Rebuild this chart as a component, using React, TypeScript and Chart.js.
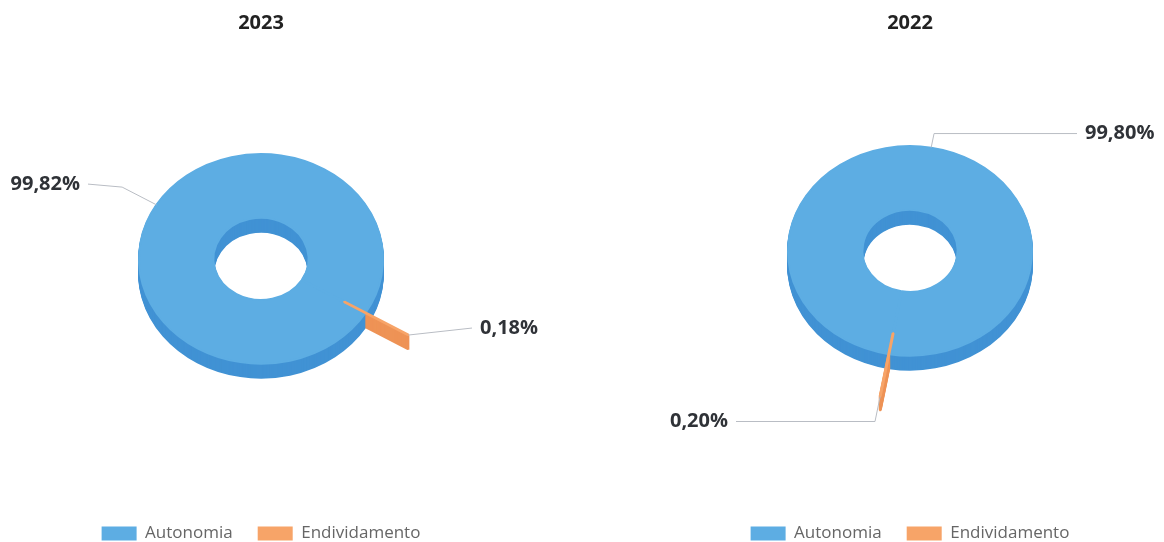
import React, { useEffect, useRef } from 'react';
import { Chart, registerables } from 'chart.js';

Chart.register(...registerables);

// ---- data ----
const categories = ['Autonomia', 'Endividamento'];
const years = ['2023', '2022'];
const values2023 = [99.82, 0.18];
const values2022 = [99.8, 0.2];
const labelTexts2023 = ['99,82%', '0,18%'];
const labelTexts2022 = ['99,80%', '0,20%'];

// ---- styles ----
const TOP_COLORS = ['#5DADE3', '#F7A468'];
const SIDE_COLORS = ['#4192D4', '#EE9356'];
const BORDER_WIDTHS = [2, 3];
const FONT = '"Open Sans", "Noto Sans", sans-serif';
const SCALE_Y = 0.86;
const DEPTH = 14;

const depthPlugin = {
  id: 'depth3d',
  beforeDatasetsDraw(chart: any, _args: any, opts: any) {
    const arcs = chart.getDatasetMeta(0).data;
    const ctx = chart.ctx;
    ctx.save();
    if (!arcs.length) return;
    const cx = arcs[0].x;
    const cy = arcs[0].y;
    for (let d = opts.depth; d >= 1; d--) {
      ctx.save();
      ctx.translate(0, d);
      ctx.translate(cx, cy);
      ctx.scale(1, opts.scaleY);
      ctx.translate(-cx, -cy);
      arcs.forEach((arc: any, i: number) => {
        const p = Object.create(arc);
        const col = opts.sideColors[i];
        p.options = Object.assign({}, arc.options, { backgroundColor: col, borderColor: col });
        arc.draw.call(p, ctx);
      });
      ctx.restore();
    }
    ctx.translate(cx, cy);
    ctx.scale(1, opts.scaleY);
    ctx.translate(-cx, -cy);
  },
  afterDatasetsDraw(chart: any) {
    chart.ctx.restore();
  },
};

const labelPlugin = {
  id: 'sliceLabels',
  afterDraw(chart: any, _args: any, o: any) {
    const arcs = chart.getDatasetMeta(0).data;
    if (!arcs.length) return;
    const ctx = chart.ctx;
    const cx = arcs[0].x;
    const cy = arcs[0].y;
    arcs.forEach((arc: any, i: number) => {
      const mid = (arc.startAngle + arc.endAngle) / 2;
      const r = arc.outerRadius + (arc.options.offset || 0) / 2;
      const c = Math.cos(mid);
      const s = Math.sin(mid);
      const px = cx + c * r;
      const py = cy + s * r * o.scaleY;
      const L = o.leader[i];
      const ex = px + c * L;
      const ey = py + s * L * o.scaleY;
      const ty = ey + o.dy[i];
      const right = c >= 0;
      const lx = right ? cx + o.rightGap : cx - o.leftGap;
      ctx.save();
      ctx.strokeStyle = '#b9bdc4';
      ctx.lineWidth = 1;
      ctx.beginPath();
      ctx.moveTo(px, py);
      ctx.lineTo(ex, ey);
      ctx.lineTo(right ? lx - 8 : lx + 8, ty);
      ctx.stroke();
      ctx.font = `bold 20px ${FONT}`;
      ctx.fillStyle = '#2f3237';
      ctx.textAlign = right ? 'left' : 'right';
      ctx.textBaseline = 'middle';
      ctx.fillText(o.texts[i], lx, ty);
      ctx.restore();
    });
  },
};

function rotationFor(values: number[], endivAngle: number) {
  // place the middle of the second slice at endivAngle (degrees, clockwise from 3 o'clock)
  const total = values.reduce((a, b) => a + b, 0);
  const before = (values[0] / total) * 360;
  const half = (values[1] / total) * 180;
  return endivAngle + 90 - before - half;
}

function makeConfig(year: string, values: number[], texts: string[], p: any) {
  return {
    type: 'doughnut',
    data: {
      labels: categories,
      datasets: [
        {
          data: values,
          backgroundColor: TOP_COLORS,
          borderColor: TOP_COLORS,
          borderWidth: BORDER_WIDTHS,
          radius: 122,
          cutout: '39%',
          rotation: rotationFor(values, p.endivAngle),
          offset: [0, 100],
          hoverOffset: 0,
          clip: false,
        },
      ],
    },
    options: {
      animation: false,
      responsive: false,
      maintainAspectRatio: false,
      events: [],
      layout: { padding: p.padding },
      plugins: {
        title: {
          display: true,
          text: year,
          color: '#222',
          font: { family: FONT, size: 20, weight: 'bold' },
          padding: { top: 11, bottom: p.titleBottom },
        },
        legend: {
          display: true,
          position: 'bottom',
          labels: {
            boxWidth: 35,
            boxHeight: 14,
            padding: 25,
            color: '#666',
            font: { family: FONT, size: 17 },
            generateLabels: () =>
              categories.map((c, i) => ({
                text: c,
                fillStyle: TOP_COLORS[i],
                strokeStyle: TOP_COLORS[i],
                lineWidth: 0,
                hidden: false,
                index: i,
                fontColor: '#666',
              })),
          },
        },
        tooltip: { enabled: false },
        depth3d: { depth: DEPTH, scaleY: SCALE_Y, sideColors: SIDE_COLORS },
        sliceLabels: {
          scaleY: SCALE_Y,
          texts,
          leader: p.leader,
          dy: p.dy,
          leftGap: p.leftGap,
          rightGap: p.rightGap,
        },
      },
    },
    plugins: [depthPlugin, labelPlugin],
  };
}

function Donut(props: { year: string; values: number[]; texts: string[]; p: any }) {
  const ref = useRef<HTMLCanvasElement>(null);
  useEffect(() => {
    if (!ref.current) return;
    const chart = new Chart(ref.current, makeConfig(props.year, props.values, props.texts, props.p) as any);
    return () => chart.destroy();
  }, []);
  return <canvas ref={ref} width={582} height={552} style={{ display: 'block', width: 582, height: 552 }} />;
}

const leftParams = {
  endivAngle: 31,
  padding: { left: 0, right: 60, top: 0, bottom: 0 },
  titleBottom: -17.3,
  leader: [40, 0],
  dy: [-3, -7],
  leftGap: 181,
  rightGap: 219,
};

const rightParams = {
  endivAngle: 100,
  padding: { left: 74, right: 0, top: 0, bottom: 0 },
  titleBottom: -33.3,
  leader: [16.5, 29.5],
  dy: [0, 0],
  leftGap: 182,
  rightGap: 175,
};

export default function App() {
  return (
    <div
      style={{
        position: 'fixed',
        left: 0,
        top: 0,
        width: 1164,
        height: 542,
        overflow: 'hidden',
        background: '#fff',
        display: 'flex',
      }}
    >
      <Donut year={years[0]} values={values2023} texts={labelTexts2023} p={leftParams} />
      <Donut year={years[1]} values={values2022} texts={labelTexts2022} p={rightParams} />
    </div>
  );
}
